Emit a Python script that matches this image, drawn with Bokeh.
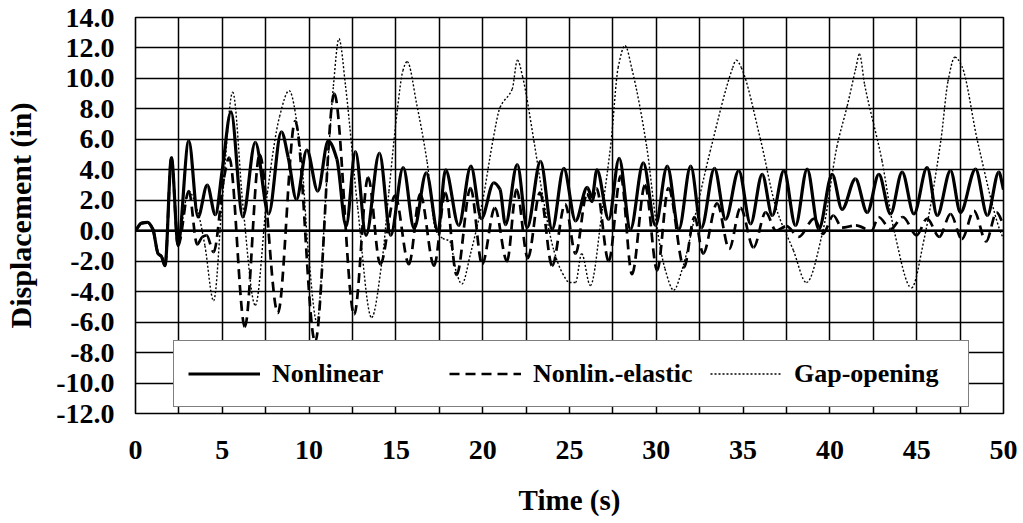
from bokeh.plotting import figure
from bokeh.models import (Range1d, FixedTicker, NumeralTickFormatter, Legend,
                          LegendItem, Span, ColumnDataSource)
from bokeh.core.properties import value
from bokeh.embed import file_html
from bokeh.resources import INLINE

# ---------------- data ----------------
t_nonlinear = [0, 0.35, 0.7, 1.0, 1.3, 1.5, 1.7, 2.07, 2.45, 3.07, 3.6, 4.13, 4.6, 5.0, 5.5,
               6.18, 6.9, 7.67, 8.4, 8.8, 9.27, 9.87, 10.5, 11.1, 11.6, 12.13, 12.67, 13.28,
               14.05, 14.7, 15.42, 16.05, 16.75, 17.42, 17.86, 18.62, 19.32, 19.92, 20.64,
               21.0, 21.31, 21.99, 22.56, 23.33, 24.0, 24.67, 25.35, 26.02, 26.3, 26.58,
               27.26, 27.86, 28.51, 29.25, 29.95, 30.63, 31.3, 31.98, 32.6, 33.35, 33.99,
               34.75, 35.43, 36.1, 36.68, 37.35, 38.02, 38.69, 39.36, 40.13, 40.7, 41.47,
               42.15, 42.82, 43.49, 44.16, 44.84, 45.6, 46.18, 46.95, 47.52, 48.39, 49.07,
               49.73, 50.0]
v_nonlinear = [0, 0.5, 0.55, 0.1, -1.5, -1.7, -2.3, 4.8, -0.9, 5.9, 0.9, 3.0, 1.05, 4.0, 7.8,
               0.9, 5.8, 1.1, 6.5, 4.8, 2.05, 5.3, 2.6, 5.9, 4.7, 0.3, 5.2, -0.3,
               5.1, -0.3, 4.15, 0.15, 3.8, -0.05, 4.0, 0.35, 4.25, 0.8, 3.15,
               2.7, 0.4, 4.35, 0.2, 4.55, 0.1, 4.1, 0.65, 2.85, 2.2, 4.0,
               0.75, 4.75, 0.1, 4.45, 0.35, 4.25, 0.1, 4.25, 0.2, 4.1, 0.75,
               3.95, 0.45, 3.7, 1.0, 3.95, 0.35, 4.05, 0.1, 3.7, 1.4, 3.4,
               1.2, 3.7, 1.1, 3.85, 1.1, 4.15, 1.0, 3.95, 1.2, 4.05, 1.0,
               3.85, 2.7]

t_elastic = [0, 0.35, 0.7, 1.0, 1.3, 1.5, 1.7, 2.07, 2.45, 3.07, 3.55, 3.85, 4.1, 4.5, 5.1,
             5.4, 6.3, 7.15, 8.2, 9.2, 10.35, 11.45, 12.6, 13.4, 14.1, 14.95, 15.75, 16.4,
             17.2, 17.85, 18.5, 19.3, 19.97, 20.7, 21.4, 21.95, 22.6, 23.3, 24.0, 24.75,
             25.35, 26.0, 26.3, 26.55, 27.26, 27.95, 28.6, 29.35, 30.05, 30.7, 31.6, 32.2,
             32.7, 33.5, 34.2, 34.85, 35.6, 36.3, 36.9, 37.5, 38.2, 39.1, 39.6, 40.2, 40.7,
             41.5, 42.4, 42.8, 43.5, 44.2, 45.0, 45.6, 46.3, 46.95, 47.6, 48.3, 49.0, 49.6,
             50.0]
v_elastic = [0, 0.5, 0.55, 0.1, -1.5, -1.7, -2.3, 4.8, -1.0, 2.6, -0.9, -0.4, -0.3, -1.4, 3.5,
             4.8, -6.3, 5.0, -5.4, 7.2, -7.3, 9.0, -5.5, 3.5, -2.2, 2.3, -2.2, 2.4,
             -2.3, 2.5, -2.9, 2.8, -2.2, 1.5, -2.0, 2.7, -1.8, 2.5, -2.3, 1.75,
             -1.5, 2.4, 1.9, 2.8, -2.0, 3.6, -2.85, 3.0, -2.6, 2.8, -2.4, 0.9,
             -1.5, 1.8, -1.2, 1.5, -1.1, 1.2, 0.0, 0.3, -0.4, 0.8, -0.2, 1.0, 0.2,
             0.35, 0.0, 0.9, 0.1, 0.9, -0.3, 0.8, -0.4, 1.1, -0.55, 1.3, -0.7, 1.2,
             0.4]

t_gap = [0, 0.35, 0.7, 1.0, 1.3, 1.5, 1.7, 2.07, 2.45, 3.07, 3.6, 4.0, 4.5, 5.0, 5.6, 6.2,
         6.9, 7.6, 8.3, 8.85, 9.55, 9.95, 10.45, 11.0, 11.4, 11.72, 12.1, 12.8, 13.6, 14.2,
         14.6, 15.1, 15.4, 15.65, 16.2, 16.8, 17.3, 17.7, 18.1, 18.5, 18.8, 19.3, 20.0,
         20.6, 21.0, 21.7, 22.0, 22.3, 22.95, 23.5, 24.1, 24.6, 25.0, 25.35, 25.7, 26.2,
         26.9, 27.4, 27.8, 28.2, 28.6, 29.45, 30.0, 30.5, 31.0, 31.5, 32.2, 33.1, 34.4,
         34.6, 34.9, 36.0, 36.9, 37.9, 38.65, 39.6, 40.4, 41.0, 41.5, 41.7, 42.0, 43.0,
         43.7, 44.7, 45.4, 46.4, 46.8, 47.2, 47.6, 48.5, 49.8, 50.0]
v_gap = [0, 0.5, 0.55, 0.1, -1.5, -1.7, -2.3, 4.8, -0.5, 2.6, 1.2, -1.0, -4.6, 2.0, 9.1, 1.5,
         -4.9, 2.5, 7.5, 9.2, 4.8, -1.3, -6.0, 3.0, 9.5, 12.6, 9.5, 1.5, -5.7, -2.0,
         2.6, 8.1, 10.5, 11.1, 8.3, 4.5, 0.0, -0.5, -0.7, -2.8, -3.5, -1.5, 2.0,
         6.0, 8.1, 9.3, 11.2, 10.1, 5.9, 2.0, -1.3, -2.8, -3.4, -3.4, -1.5, -3.6,
         1.5, 5.9, 10.7, 12.15, 10.6, 5.5, 0.5, -2.5, -3.9, -2.5, 0.8, 5.2, 10.7,
         11.2, 10.7, 6.0, 1.5, -1.3, -3.4, 0.0, 5.5, 8.2, 10.7, 11.6, 9.6, 4.6,
         0.0, -3.75, -0.7, 6.0, 9.8, 11.4, 10.8, 5.9, 0.0, -0.5]

x_ticks = [0, 5, 10, 15, 20, 25, 30, 35, 40, 45, 50]
x_grid = [0, 2.5, 5, 7.5, 10, 12.5, 15, 17.5, 20, 22.5, 25, 27.5, 30, 32.5, 35, 37.5,
          40, 42.5, 45, 47.5, 50]
y_ticks = [-12, -10, -8, -6, -4, -2, 0, 2, 4, 6, 8, 10, 12, 14]

series_names = ["Nonlinear", "Nonlin.-elastic", "Gap-opening"]

FONT = "Liberation Serif"


def smooth_source(t, v):
    """Smoothed-line rendering (like a spreadsheet 'smoothed line'): one cubic
    Bezier per pair of consecutive data points, horizontal tangents at extrema."""
    n = len(t)
    d = [(v[i + 1] - v[i]) / (t[i + 1] - t[i]) for i in range(n - 1)]
    s = []
    for i in range(n):
        if i == 0:
            s.append(d[0])
        elif i == n - 1:
            s.append(d[-1])
        elif d[i - 1] * d[i] <= 0:
            s.append(0.0)
        else:
            s.append(2.0 / (1.0 / d[i - 1] + 1.0 / d[i]))
    cols = dict(x0=[], y0=[], x1=[], y1=[], cx0=[], cy0=[], cx1=[], cy1=[])
    for i in range(n - 1):
        h = (t[i + 1] - t[i]) / 3.0
        cols["x0"].append(t[i]); cols["y0"].append(v[i])
        cols["x1"].append(t[i + 1]); cols["y1"].append(v[i + 1])
        cols["cx0"].append(t[i] + h); cols["cy0"].append(v[i] + s[i] * h)
        cols["cx1"].append(t[i + 1] - h); cols["cy1"].append(v[i + 1] - s[i + 1] * h)
    return ColumnDataSource(cols)


p = figure(width=1023, height=523, output_backend="svg", toolbar_location=None,
           x_range=Range1d(0, 50), y_range=Range1d(-12, 14),
           min_border_left=135, min_border_right=20, min_border_top=17,
           min_border_bottom=110)
p.background_fill_color = "white"
p.border_fill_color = "white"
p.outline_line_color = "black"
p.outline_line_width = 1.6

# grid
p.xgrid.ticker = FixedTicker(ticks=x_grid)
p.ygrid.ticker = FixedTicker(ticks=y_ticks)
for g in (p.xgrid[0], p.ygrid[0]):
    g.grid_line_color = "black"
    g.grid_line_width = 1.5
    g.grid_line_alpha = 1.0
p.add_layout(Span(location=0, dimension="width", line_color="black", line_width=2.6))

# axes
for ax in (p.xaxis[0], p.yaxis[0]):
    ax.axis_line_color = None
    ax.major_tick_line_color = None
    ax.minor_tick_line_color = None
    ax.major_tick_out = 0
    ax.major_tick_in = 0
    ax.major_label_text_font = FONT
    ax.major_label_text_font_style = "bold"
    ax.major_label_text_font_size = "28px"
    ax.major_label_text_color = "black"
    ax.axis_label_text_font = FONT
    ax.axis_label_text_font_style = "bold"
    ax.axis_label_text_color = "black"

p.xaxis.ticker = FixedTicker(ticks=x_ticks)
p.xaxis.major_label_standoff = 27
p.xaxis.axis_label = "Time (s)"
p.xaxis.axis_label_text_font_size = "29px"
p.xaxis.axis_label_standoff = 22

p.yaxis.ticker = FixedTicker(ticks=y_ticks)
p.yaxis.formatter = NumeralTickFormatter(format="0.0")
p.yaxis.major_label_standoff = 21
p.yaxis.axis_label = "Displacement (in)"
p.yaxis.axis_label_text_font_size = "30px"
p.yaxis.axis_label_standoff = 16

# series (drawn back to front)
bz = dict(x0="x0", y0="y0", x1="x1", y1="y1", cx0="cx0", cy0="cy0", cx1="cx1", cy1="cy1")
r_gap = p.bezier(source=smooth_source(t_gap, v_gap), line_color="black",
                 line_width=1.4, line_dash=value("2 1.5"), **bz)
r_el = p.bezier(source=smooth_source(t_elastic, v_elastic), line_color="black",
                line_width=2.7, line_dash=value("10 6"), **bz)
r_nl = p.bezier(source=smooth_source(t_nonlinear, v_nonlinear), line_color="black",
                line_width=3.2, **bz)

legend = Legend(items=[LegendItem(label=series_names[0], renderers=[r_nl], index=0),
                       LegendItem(label=series_names[1], renderers=[r_el], index=0),
                       LegendItem(label=series_names[2], renderers=[r_gap], index=0)],
                orientation="horizontal", location=(38, 6), margin=0,
                padding=14, spacing=17, glyph_width=72, glyph_height=37,
                label_width=160, label_height=37, label_standoff=12,
                label_text_font=FONT, label_text_font_style="bold",
                label_text_font_size="26px", label_text_color="black",
                border_line_color="black", border_line_width=1.6,
                background_fill_color="white", background_fill_alpha=1.0)
p.add_layout(legend, "center")

open("out.html", "w").write(file_html(p, INLINE))
